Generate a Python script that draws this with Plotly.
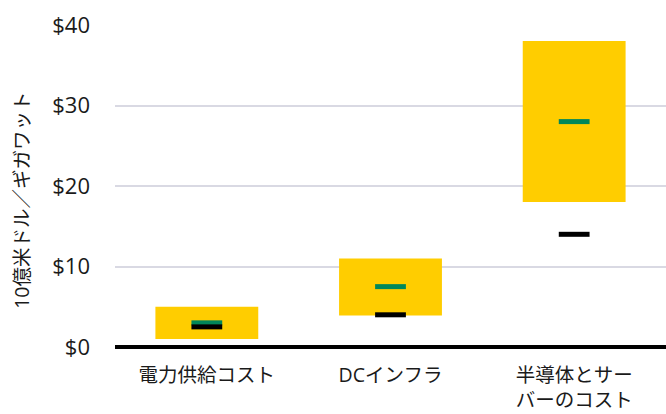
import plotly.graph_objects as go

categories = ["電力供給コスト", "DCインフラ", "半導体とサー<br>バーのコスト"]
range_low = [1, 3.9, 18]
range_high = [5, 11, 38]
green_vals = [3, 7.5, 28]
black_vals = [2.5, 4, 14]
tick_vals = [0, 10, 20, 30, 40]
tick_text = ["$0", "$10", "$20", "$30", "$40"]
y_title = "10億米ドル／ギガワット"

FONT = "Open Sans, Noto Sans CJK JP"

fig = go.Figure()
fig.add_trace(go.Bar(
    x=categories,
    y=[h - l for h, l in zip(range_high, range_low)],
    base=range_low,
    width=0.56,
    marker=dict(color="#FFCD00", line=dict(width=0)),
    showlegend=False,
    hoverinfo="skip",
))
fig.add_trace(go.Scatter(
    x=categories, y=green_vals, mode="markers",
    marker=dict(symbol="line-ew", size=22, line=dict(color="#00875A", width=5)),
    showlegend=False,
))
fig.add_trace(go.Scatter(
    x=categories, y=black_vals, mode="markers",
    marker=dict(symbol="line-ew", size=22, line=dict(color="#000000", width=5)),
    showlegend=False,
))

fig.update_layout(
    width=666, height=414,
    margin=dict(l=115, r=0, t=25, b=67),
    plot_bgcolor="white", paper_bgcolor="white",
    font=dict(family=FONT, size=19, color="#1a1a1a"),
    annotations=[dict(
        text=y_title, textangle=-90, showarrow=False,
        xref="paper", yref="paper", x=-0.1688, y=0.457,
        xanchor="center", yanchor="middle",
        font=dict(size=19.5, family=FONT, color="#1a1a1a"),
    )],
)
fig.update_xaxes(
    showgrid=False, showline=False, ticks="", zeroline=False,
    range=[-0.5, 2.5], tickfont=dict(size=19.5, family=FONT, color="#1a1a1a"),
    ticklabelstandoff=14,
)
fig.update_yaxes(
    range=[0, 40], tickvals=tick_vals, ticktext=tick_text,
    showgrid=True, gridcolor="#D9D9E3", gridwidth=2,
    zeroline=True, zerolinecolor="#000000", zerolinewidth=4,
    showline=False, ticks="", ticklabelstandoff=24,
    tickfont=dict(size=22, family=FONT, color="#1a1a1a"),
)

fig.write_html("out.html")
